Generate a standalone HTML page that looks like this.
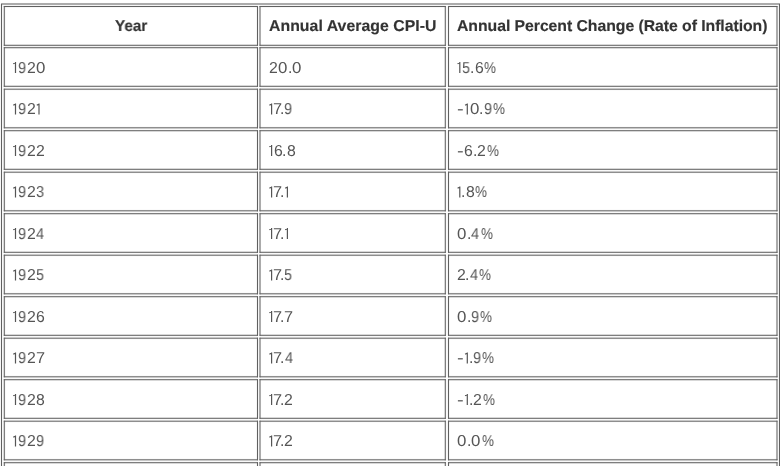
<!DOCTYPE html>
<html><head><meta charset="utf-8"><style>
html,body{margin:0;padding:0;background:#fff;width:780px;height:466px;overflow:hidden;position:relative}
svg{position:absolute;left:0;top:0}
.h,.b{position:absolute;height:0;line-height:0;white-space:nowrap;font-family:"Liberation Sans",sans-serif;transform-origin:0 0;will-change:transform;text-rendering:geometricPrecision}
.h{font-weight:bold;font-size:15.8px;color:#333;-webkit-text-stroke:0.15px #333}
.b{font-size:15.8px;color:#555}
</style></head><body>
<svg width="780" height="466" viewBox="0 0 780 466"><rect x="1.00" y="4.00" width="1.00" height="462.00" fill="#606060"/><rect x="0.40" y="4.00" width="0.60" height="462.00" fill="#606060" fill-opacity="0.1"/><rect x="2.00" y="4.00" width="0.60" height="462.00" fill="#606060" fill-opacity="0.1"/><rect x="779.00" y="4.00" width="1.00" height="462.00" fill="#606060"/><rect x="778.40" y="4.00" width="0.60" height="462.00" fill="#606060" fill-opacity="0.1"/><rect x="780.00" y="4.00" width="0.60" height="462.00" fill="#606060" fill-opacity="0.1"/><rect x="1.00" y="3.50" width="779.00" height="1.00" fill="#606060"/><rect x="1.00" y="2.90" width="779.00" height="0.60" fill="#606060" fill-opacity="0.1"/><rect x="1.00" y="4.50" width="779.00" height="0.60" fill="#606060" fill-opacity="0.1"/><rect x="3.80" y="6.00" width="254.20" height="1.00" fill="#606060"/><rect x="3.80" y="5.40" width="254.20" height="0.60" fill="#606060" fill-opacity="0.1"/><rect x="3.80" y="7.00" width="254.20" height="0.60" fill="#606060" fill-opacity="0.1"/><rect x="3.80" y="44.80" width="254.20" height="1.00" fill="#606060"/><rect x="3.80" y="44.20" width="254.20" height="0.60" fill="#606060" fill-opacity="0.1"/><rect x="3.80" y="45.80" width="254.20" height="0.60" fill="#606060" fill-opacity="0.1"/><rect x="3.80" y="6.00" width="1.00" height="39.80" fill="#606060"/><rect x="3.20" y="6.00" width="0.60" height="39.80" fill="#606060" fill-opacity="0.1"/><rect x="4.80" y="6.00" width="0.60" height="39.80" fill="#606060" fill-opacity="0.1"/><rect x="257.00" y="6.00" width="1.00" height="39.80" fill="#606060"/><rect x="256.40" y="6.00" width="0.60" height="39.80" fill="#606060" fill-opacity="0.1"/><rect x="258.00" y="6.00" width="0.60" height="39.80" fill="#606060" fill-opacity="0.1"/><rect x="259.50" y="6.00" width="186.30" height="1.00" fill="#606060"/><rect x="259.50" y="5.40" width="186.30" height="0.60" fill="#606060" fill-opacity="0.1"/><rect x="259.50" y="7.00" width="186.30" height="0.60" fill="#606060" fill-opacity="0.1"/><rect x="259.50" y="44.80" width="186.30" height="1.00" fill="#606060"/><rect x="259.50" y="44.20" width="186.30" height="0.60" fill="#606060" fill-opacity="0.1"/><rect x="259.50" y="45.80" width="186.30" height="0.60" fill="#606060" fill-opacity="0.1"/><rect x="259.50" y="6.00" width="1.00" height="39.80" fill="#606060"/><rect x="258.90" y="6.00" width="0.60" height="39.80" fill="#606060" fill-opacity="0.1"/><rect x="260.50" y="6.00" width="0.60" height="39.80" fill="#606060" fill-opacity="0.1"/><rect x="444.80" y="6.00" width="1.00" height="39.80" fill="#606060"/><rect x="444.20" y="6.00" width="0.60" height="39.80" fill="#606060" fill-opacity="0.1"/><rect x="445.80" y="6.00" width="0.60" height="39.80" fill="#606060" fill-opacity="0.1"/><rect x="448.00" y="6.00" width="329.50" height="1.00" fill="#606060"/><rect x="448.00" y="5.40" width="329.50" height="0.60" fill="#606060" fill-opacity="0.1"/><rect x="448.00" y="7.00" width="329.50" height="0.60" fill="#606060" fill-opacity="0.1"/><rect x="448.00" y="44.80" width="329.50" height="1.00" fill="#606060"/><rect x="448.00" y="44.20" width="329.50" height="0.60" fill="#606060" fill-opacity="0.1"/><rect x="448.00" y="45.80" width="329.50" height="0.60" fill="#606060" fill-opacity="0.1"/><rect x="448.00" y="6.00" width="1.00" height="39.80" fill="#606060"/><rect x="447.40" y="6.00" width="0.60" height="39.80" fill="#606060" fill-opacity="0.1"/><rect x="449.00" y="6.00" width="0.60" height="39.80" fill="#606060" fill-opacity="0.1"/><rect x="776.50" y="6.00" width="1.00" height="39.80" fill="#606060"/><rect x="775.90" y="6.00" width="0.60" height="39.80" fill="#606060" fill-opacity="0.1"/><rect x="777.50" y="6.00" width="0.60" height="39.80" fill="#606060" fill-opacity="0.1"/><rect x="3.80" y="47.20" width="254.20" height="1.00" fill="#606060"/><rect x="3.80" y="46.60" width="254.20" height="0.60" fill="#606060" fill-opacity="0.1"/><rect x="3.80" y="48.20" width="254.20" height="0.60" fill="#606060" fill-opacity="0.1"/><rect x="3.80" y="85.80" width="254.20" height="1.00" fill="#606060"/><rect x="3.80" y="85.20" width="254.20" height="0.60" fill="#606060" fill-opacity="0.1"/><rect x="3.80" y="86.80" width="254.20" height="0.60" fill="#606060" fill-opacity="0.1"/><rect x="3.80" y="47.20" width="1.00" height="39.60" fill="#606060"/><rect x="3.20" y="47.20" width="0.60" height="39.60" fill="#606060" fill-opacity="0.1"/><rect x="4.80" y="47.20" width="0.60" height="39.60" fill="#606060" fill-opacity="0.1"/><rect x="257.00" y="47.20" width="1.00" height="39.60" fill="#606060"/><rect x="256.40" y="47.20" width="0.60" height="39.60" fill="#606060" fill-opacity="0.1"/><rect x="258.00" y="47.20" width="0.60" height="39.60" fill="#606060" fill-opacity="0.1"/><rect x="259.50" y="47.20" width="186.30" height="1.00" fill="#606060"/><rect x="259.50" y="46.60" width="186.30" height="0.60" fill="#606060" fill-opacity="0.1"/><rect x="259.50" y="48.20" width="186.30" height="0.60" fill="#606060" fill-opacity="0.1"/><rect x="259.50" y="85.80" width="186.30" height="1.00" fill="#606060"/><rect x="259.50" y="85.20" width="186.30" height="0.60" fill="#606060" fill-opacity="0.1"/><rect x="259.50" y="86.80" width="186.30" height="0.60" fill="#606060" fill-opacity="0.1"/><rect x="259.50" y="47.20" width="1.00" height="39.60" fill="#606060"/><rect x="258.90" y="47.20" width="0.60" height="39.60" fill="#606060" fill-opacity="0.1"/><rect x="260.50" y="47.20" width="0.60" height="39.60" fill="#606060" fill-opacity="0.1"/><rect x="444.80" y="47.20" width="1.00" height="39.60" fill="#606060"/><rect x="444.20" y="47.20" width="0.60" height="39.60" fill="#606060" fill-opacity="0.1"/><rect x="445.80" y="47.20" width="0.60" height="39.60" fill="#606060" fill-opacity="0.1"/><rect x="448.00" y="47.20" width="329.50" height="1.00" fill="#606060"/><rect x="448.00" y="46.60" width="329.50" height="0.60" fill="#606060" fill-opacity="0.1"/><rect x="448.00" y="48.20" width="329.50" height="0.60" fill="#606060" fill-opacity="0.1"/><rect x="448.00" y="85.80" width="329.50" height="1.00" fill="#606060"/><rect x="448.00" y="85.20" width="329.50" height="0.60" fill="#606060" fill-opacity="0.1"/><rect x="448.00" y="86.80" width="329.50" height="0.60" fill="#606060" fill-opacity="0.1"/><rect x="448.00" y="47.20" width="1.00" height="39.60" fill="#606060"/><rect x="447.40" y="47.20" width="0.60" height="39.60" fill="#606060" fill-opacity="0.1"/><rect x="449.00" y="47.20" width="0.60" height="39.60" fill="#606060" fill-opacity="0.1"/><rect x="776.50" y="47.20" width="1.00" height="39.60" fill="#606060"/><rect x="775.90" y="47.20" width="0.60" height="39.60" fill="#606060" fill-opacity="0.1"/><rect x="777.50" y="47.20" width="0.60" height="39.60" fill="#606060" fill-opacity="0.1"/><rect x="3.80" y="88.70" width="254.20" height="1.00" fill="#606060"/><rect x="3.80" y="88.10" width="254.20" height="0.60" fill="#606060" fill-opacity="0.1"/><rect x="3.80" y="89.70" width="254.20" height="0.60" fill="#606060" fill-opacity="0.1"/><rect x="3.80" y="127.30" width="254.20" height="1.00" fill="#606060"/><rect x="3.80" y="126.70" width="254.20" height="0.60" fill="#606060" fill-opacity="0.1"/><rect x="3.80" y="128.30" width="254.20" height="0.60" fill="#606060" fill-opacity="0.1"/><rect x="3.80" y="88.70" width="1.00" height="39.60" fill="#606060"/><rect x="3.20" y="88.70" width="0.60" height="39.60" fill="#606060" fill-opacity="0.1"/><rect x="4.80" y="88.70" width="0.60" height="39.60" fill="#606060" fill-opacity="0.1"/><rect x="257.00" y="88.70" width="1.00" height="39.60" fill="#606060"/><rect x="256.40" y="88.70" width="0.60" height="39.60" fill="#606060" fill-opacity="0.1"/><rect x="258.00" y="88.70" width="0.60" height="39.60" fill="#606060" fill-opacity="0.1"/><rect x="259.50" y="88.70" width="186.30" height="1.00" fill="#606060"/><rect x="259.50" y="88.10" width="186.30" height="0.60" fill="#606060" fill-opacity="0.1"/><rect x="259.50" y="89.70" width="186.30" height="0.60" fill="#606060" fill-opacity="0.1"/><rect x="259.50" y="127.30" width="186.30" height="1.00" fill="#606060"/><rect x="259.50" y="126.70" width="186.30" height="0.60" fill="#606060" fill-opacity="0.1"/><rect x="259.50" y="128.30" width="186.30" height="0.60" fill="#606060" fill-opacity="0.1"/><rect x="259.50" y="88.70" width="1.00" height="39.60" fill="#606060"/><rect x="258.90" y="88.70" width="0.60" height="39.60" fill="#606060" fill-opacity="0.1"/><rect x="260.50" y="88.70" width="0.60" height="39.60" fill="#606060" fill-opacity="0.1"/><rect x="444.80" y="88.70" width="1.00" height="39.60" fill="#606060"/><rect x="444.20" y="88.70" width="0.60" height="39.60" fill="#606060" fill-opacity="0.1"/><rect x="445.80" y="88.70" width="0.60" height="39.60" fill="#606060" fill-opacity="0.1"/><rect x="448.00" y="88.70" width="329.50" height="1.00" fill="#606060"/><rect x="448.00" y="88.10" width="329.50" height="0.60" fill="#606060" fill-opacity="0.1"/><rect x="448.00" y="89.70" width="329.50" height="0.60" fill="#606060" fill-opacity="0.1"/><rect x="448.00" y="127.30" width="329.50" height="1.00" fill="#606060"/><rect x="448.00" y="126.70" width="329.50" height="0.60" fill="#606060" fill-opacity="0.1"/><rect x="448.00" y="128.30" width="329.50" height="0.60" fill="#606060" fill-opacity="0.1"/><rect x="448.00" y="88.70" width="1.00" height="39.60" fill="#606060"/><rect x="447.40" y="88.70" width="0.60" height="39.60" fill="#606060" fill-opacity="0.1"/><rect x="449.00" y="88.70" width="0.60" height="39.60" fill="#606060" fill-opacity="0.1"/><rect x="776.50" y="88.70" width="1.00" height="39.60" fill="#606060"/><rect x="775.90" y="88.70" width="0.60" height="39.60" fill="#606060" fill-opacity="0.1"/><rect x="777.50" y="88.70" width="0.60" height="39.60" fill="#606060" fill-opacity="0.1"/><rect x="3.80" y="130.20" width="254.20" height="1.00" fill="#606060"/><rect x="3.80" y="129.60" width="254.20" height="0.60" fill="#606060" fill-opacity="0.1"/><rect x="3.80" y="131.20" width="254.20" height="0.60" fill="#606060" fill-opacity="0.1"/><rect x="3.80" y="168.80" width="254.20" height="1.00" fill="#606060"/><rect x="3.80" y="168.20" width="254.20" height="0.60" fill="#606060" fill-opacity="0.1"/><rect x="3.80" y="169.80" width="254.20" height="0.60" fill="#606060" fill-opacity="0.1"/><rect x="3.80" y="130.20" width="1.00" height="39.60" fill="#606060"/><rect x="3.20" y="130.20" width="0.60" height="39.60" fill="#606060" fill-opacity="0.1"/><rect x="4.80" y="130.20" width="0.60" height="39.60" fill="#606060" fill-opacity="0.1"/><rect x="257.00" y="130.20" width="1.00" height="39.60" fill="#606060"/><rect x="256.40" y="130.20" width="0.60" height="39.60" fill="#606060" fill-opacity="0.1"/><rect x="258.00" y="130.20" width="0.60" height="39.60" fill="#606060" fill-opacity="0.1"/><rect x="259.50" y="130.20" width="186.30" height="1.00" fill="#606060"/><rect x="259.50" y="129.60" width="186.30" height="0.60" fill="#606060" fill-opacity="0.1"/><rect x="259.50" y="131.20" width="186.30" height="0.60" fill="#606060" fill-opacity="0.1"/><rect x="259.50" y="168.80" width="186.30" height="1.00" fill="#606060"/><rect x="259.50" y="168.20" width="186.30" height="0.60" fill="#606060" fill-opacity="0.1"/><rect x="259.50" y="169.80" width="186.30" height="0.60" fill="#606060" fill-opacity="0.1"/><rect x="259.50" y="130.20" width="1.00" height="39.60" fill="#606060"/><rect x="258.90" y="130.20" width="0.60" height="39.60" fill="#606060" fill-opacity="0.1"/><rect x="260.50" y="130.20" width="0.60" height="39.60" fill="#606060" fill-opacity="0.1"/><rect x="444.80" y="130.20" width="1.00" height="39.60" fill="#606060"/><rect x="444.20" y="130.20" width="0.60" height="39.60" fill="#606060" fill-opacity="0.1"/><rect x="445.80" y="130.20" width="0.60" height="39.60" fill="#606060" fill-opacity="0.1"/><rect x="448.00" y="130.20" width="329.50" height="1.00" fill="#606060"/><rect x="448.00" y="129.60" width="329.50" height="0.60" fill="#606060" fill-opacity="0.1"/><rect x="448.00" y="131.20" width="329.50" height="0.60" fill="#606060" fill-opacity="0.1"/><rect x="448.00" y="168.80" width="329.50" height="1.00" fill="#606060"/><rect x="448.00" y="168.20" width="329.50" height="0.60" fill="#606060" fill-opacity="0.1"/><rect x="448.00" y="169.80" width="329.50" height="0.60" fill="#606060" fill-opacity="0.1"/><rect x="448.00" y="130.20" width="1.00" height="39.60" fill="#606060"/><rect x="447.40" y="130.20" width="0.60" height="39.60" fill="#606060" fill-opacity="0.1"/><rect x="449.00" y="130.20" width="0.60" height="39.60" fill="#606060" fill-opacity="0.1"/><rect x="776.50" y="130.20" width="1.00" height="39.60" fill="#606060"/><rect x="775.90" y="130.20" width="0.60" height="39.60" fill="#606060" fill-opacity="0.1"/><rect x="777.50" y="130.20" width="0.60" height="39.60" fill="#606060" fill-opacity="0.1"/><rect x="3.80" y="171.70" width="254.20" height="1.00" fill="#606060"/><rect x="3.80" y="171.10" width="254.20" height="0.60" fill="#606060" fill-opacity="0.1"/><rect x="3.80" y="172.70" width="254.20" height="0.60" fill="#606060" fill-opacity="0.1"/><rect x="3.80" y="210.30" width="254.20" height="1.00" fill="#606060"/><rect x="3.80" y="209.70" width="254.20" height="0.60" fill="#606060" fill-opacity="0.1"/><rect x="3.80" y="211.30" width="254.20" height="0.60" fill="#606060" fill-opacity="0.1"/><rect x="3.80" y="171.70" width="1.00" height="39.60" fill="#606060"/><rect x="3.20" y="171.70" width="0.60" height="39.60" fill="#606060" fill-opacity="0.1"/><rect x="4.80" y="171.70" width="0.60" height="39.60" fill="#606060" fill-opacity="0.1"/><rect x="257.00" y="171.70" width="1.00" height="39.60" fill="#606060"/><rect x="256.40" y="171.70" width="0.60" height="39.60" fill="#606060" fill-opacity="0.1"/><rect x="258.00" y="171.70" width="0.60" height="39.60" fill="#606060" fill-opacity="0.1"/><rect x="259.50" y="171.70" width="186.30" height="1.00" fill="#606060"/><rect x="259.50" y="171.10" width="186.30" height="0.60" fill="#606060" fill-opacity="0.1"/><rect x="259.50" y="172.70" width="186.30" height="0.60" fill="#606060" fill-opacity="0.1"/><rect x="259.50" y="210.30" width="186.30" height="1.00" fill="#606060"/><rect x="259.50" y="209.70" width="186.30" height="0.60" fill="#606060" fill-opacity="0.1"/><rect x="259.50" y="211.30" width="186.30" height="0.60" fill="#606060" fill-opacity="0.1"/><rect x="259.50" y="171.70" width="1.00" height="39.60" fill="#606060"/><rect x="258.90" y="171.70" width="0.60" height="39.60" fill="#606060" fill-opacity="0.1"/><rect x="260.50" y="171.70" width="0.60" height="39.60" fill="#606060" fill-opacity="0.1"/><rect x="444.80" y="171.70" width="1.00" height="39.60" fill="#606060"/><rect x="444.20" y="171.70" width="0.60" height="39.60" fill="#606060" fill-opacity="0.1"/><rect x="445.80" y="171.70" width="0.60" height="39.60" fill="#606060" fill-opacity="0.1"/><rect x="448.00" y="171.70" width="329.50" height="1.00" fill="#606060"/><rect x="448.00" y="171.10" width="329.50" height="0.60" fill="#606060" fill-opacity="0.1"/><rect x="448.00" y="172.70" width="329.50" height="0.60" fill="#606060" fill-opacity="0.1"/><rect x="448.00" y="210.30" width="329.50" height="1.00" fill="#606060"/><rect x="448.00" y="209.70" width="329.50" height="0.60" fill="#606060" fill-opacity="0.1"/><rect x="448.00" y="211.30" width="329.50" height="0.60" fill="#606060" fill-opacity="0.1"/><rect x="448.00" y="171.70" width="1.00" height="39.60" fill="#606060"/><rect x="447.40" y="171.70" width="0.60" height="39.60" fill="#606060" fill-opacity="0.1"/><rect x="449.00" y="171.70" width="0.60" height="39.60" fill="#606060" fill-opacity="0.1"/><rect x="776.50" y="171.70" width="1.00" height="39.60" fill="#606060"/><rect x="775.90" y="171.70" width="0.60" height="39.60" fill="#606060" fill-opacity="0.1"/><rect x="777.50" y="171.70" width="0.60" height="39.60" fill="#606060" fill-opacity="0.1"/><rect x="3.80" y="213.20" width="254.20" height="1.00" fill="#606060"/><rect x="3.80" y="212.60" width="254.20" height="0.60" fill="#606060" fill-opacity="0.1"/><rect x="3.80" y="214.20" width="254.20" height="0.60" fill="#606060" fill-opacity="0.1"/><rect x="3.80" y="251.80" width="254.20" height="1.00" fill="#606060"/><rect x="3.80" y="251.20" width="254.20" height="0.60" fill="#606060" fill-opacity="0.1"/><rect x="3.80" y="252.80" width="254.20" height="0.60" fill="#606060" fill-opacity="0.1"/><rect x="3.80" y="213.20" width="1.00" height="39.60" fill="#606060"/><rect x="3.20" y="213.20" width="0.60" height="39.60" fill="#606060" fill-opacity="0.1"/><rect x="4.80" y="213.20" width="0.60" height="39.60" fill="#606060" fill-opacity="0.1"/><rect x="257.00" y="213.20" width="1.00" height="39.60" fill="#606060"/><rect x="256.40" y="213.20" width="0.60" height="39.60" fill="#606060" fill-opacity="0.1"/><rect x="258.00" y="213.20" width="0.60" height="39.60" fill="#606060" fill-opacity="0.1"/><rect x="259.50" y="213.20" width="186.30" height="1.00" fill="#606060"/><rect x="259.50" y="212.60" width="186.30" height="0.60" fill="#606060" fill-opacity="0.1"/><rect x="259.50" y="214.20" width="186.30" height="0.60" fill="#606060" fill-opacity="0.1"/><rect x="259.50" y="251.80" width="186.30" height="1.00" fill="#606060"/><rect x="259.50" y="251.20" width="186.30" height="0.60" fill="#606060" fill-opacity="0.1"/><rect x="259.50" y="252.80" width="186.30" height="0.60" fill="#606060" fill-opacity="0.1"/><rect x="259.50" y="213.20" width="1.00" height="39.60" fill="#606060"/><rect x="258.90" y="213.20" width="0.60" height="39.60" fill="#606060" fill-opacity="0.1"/><rect x="260.50" y="213.20" width="0.60" height="39.60" fill="#606060" fill-opacity="0.1"/><rect x="444.80" y="213.20" width="1.00" height="39.60" fill="#606060"/><rect x="444.20" y="213.20" width="0.60" height="39.60" fill="#606060" fill-opacity="0.1"/><rect x="445.80" y="213.20" width="0.60" height="39.60" fill="#606060" fill-opacity="0.1"/><rect x="448.00" y="213.20" width="329.50" height="1.00" fill="#606060"/><rect x="448.00" y="212.60" width="329.50" height="0.60" fill="#606060" fill-opacity="0.1"/><rect x="448.00" y="214.20" width="329.50" height="0.60" fill="#606060" fill-opacity="0.1"/><rect x="448.00" y="251.80" width="329.50" height="1.00" fill="#606060"/><rect x="448.00" y="251.20" width="329.50" height="0.60" fill="#606060" fill-opacity="0.1"/><rect x="448.00" y="252.80" width="329.50" height="0.60" fill="#606060" fill-opacity="0.1"/><rect x="448.00" y="213.20" width="1.00" height="39.60" fill="#606060"/><rect x="447.40" y="213.20" width="0.60" height="39.60" fill="#606060" fill-opacity="0.1"/><rect x="449.00" y="213.20" width="0.60" height="39.60" fill="#606060" fill-opacity="0.1"/><rect x="776.50" y="213.20" width="1.00" height="39.60" fill="#606060"/><rect x="775.90" y="213.20" width="0.60" height="39.60" fill="#606060" fill-opacity="0.1"/><rect x="777.50" y="213.20" width="0.60" height="39.60" fill="#606060" fill-opacity="0.1"/><rect x="3.80" y="254.70" width="254.20" height="1.00" fill="#606060"/><rect x="3.80" y="254.10" width="254.20" height="0.60" fill="#606060" fill-opacity="0.1"/><rect x="3.80" y="255.70" width="254.20" height="0.60" fill="#606060" fill-opacity="0.1"/><rect x="3.80" y="293.30" width="254.20" height="1.00" fill="#606060"/><rect x="3.80" y="292.70" width="254.20" height="0.60" fill="#606060" fill-opacity="0.1"/><rect x="3.80" y="294.30" width="254.20" height="0.60" fill="#606060" fill-opacity="0.1"/><rect x="3.80" y="254.70" width="1.00" height="39.60" fill="#606060"/><rect x="3.20" y="254.70" width="0.60" height="39.60" fill="#606060" fill-opacity="0.1"/><rect x="4.80" y="254.70" width="0.60" height="39.60" fill="#606060" fill-opacity="0.1"/><rect x="257.00" y="254.70" width="1.00" height="39.60" fill="#606060"/><rect x="256.40" y="254.70" width="0.60" height="39.60" fill="#606060" fill-opacity="0.1"/><rect x="258.00" y="254.70" width="0.60" height="39.60" fill="#606060" fill-opacity="0.1"/><rect x="259.50" y="254.70" width="186.30" height="1.00" fill="#606060"/><rect x="259.50" y="254.10" width="186.30" height="0.60" fill="#606060" fill-opacity="0.1"/><rect x="259.50" y="255.70" width="186.30" height="0.60" fill="#606060" fill-opacity="0.1"/><rect x="259.50" y="293.30" width="186.30" height="1.00" fill="#606060"/><rect x="259.50" y="292.70" width="186.30" height="0.60" fill="#606060" fill-opacity="0.1"/><rect x="259.50" y="294.30" width="186.30" height="0.60" fill="#606060" fill-opacity="0.1"/><rect x="259.50" y="254.70" width="1.00" height="39.60" fill="#606060"/><rect x="258.90" y="254.70" width="0.60" height="39.60" fill="#606060" fill-opacity="0.1"/><rect x="260.50" y="254.70" width="0.60" height="39.60" fill="#606060" fill-opacity="0.1"/><rect x="444.80" y="254.70" width="1.00" height="39.60" fill="#606060"/><rect x="444.20" y="254.70" width="0.60" height="39.60" fill="#606060" fill-opacity="0.1"/><rect x="445.80" y="254.70" width="0.60" height="39.60" fill="#606060" fill-opacity="0.1"/><rect x="448.00" y="254.70" width="329.50" height="1.00" fill="#606060"/><rect x="448.00" y="254.10" width="329.50" height="0.60" fill="#606060" fill-opacity="0.1"/><rect x="448.00" y="255.70" width="329.50" height="0.60" fill="#606060" fill-opacity="0.1"/><rect x="448.00" y="293.30" width="329.50" height="1.00" fill="#606060"/><rect x="448.00" y="292.70" width="329.50" height="0.60" fill="#606060" fill-opacity="0.1"/><rect x="448.00" y="294.30" width="329.50" height="0.60" fill="#606060" fill-opacity="0.1"/><rect x="448.00" y="254.70" width="1.00" height="39.60" fill="#606060"/><rect x="447.40" y="254.70" width="0.60" height="39.60" fill="#606060" fill-opacity="0.1"/><rect x="449.00" y="254.70" width="0.60" height="39.60" fill="#606060" fill-opacity="0.1"/><rect x="776.50" y="254.70" width="1.00" height="39.60" fill="#606060"/><rect x="775.90" y="254.70" width="0.60" height="39.60" fill="#606060" fill-opacity="0.1"/><rect x="777.50" y="254.70" width="0.60" height="39.60" fill="#606060" fill-opacity="0.1"/><rect x="3.80" y="296.20" width="254.20" height="1.00" fill="#606060"/><rect x="3.80" y="295.60" width="254.20" height="0.60" fill="#606060" fill-opacity="0.1"/><rect x="3.80" y="297.20" width="254.20" height="0.60" fill="#606060" fill-opacity="0.1"/><rect x="3.80" y="334.80" width="254.20" height="1.00" fill="#606060"/><rect x="3.80" y="334.20" width="254.20" height="0.60" fill="#606060" fill-opacity="0.1"/><rect x="3.80" y="335.80" width="254.20" height="0.60" fill="#606060" fill-opacity="0.1"/><rect x="3.80" y="296.20" width="1.00" height="39.60" fill="#606060"/><rect x="3.20" y="296.20" width="0.60" height="39.60" fill="#606060" fill-opacity="0.1"/><rect x="4.80" y="296.20" width="0.60" height="39.60" fill="#606060" fill-opacity="0.1"/><rect x="257.00" y="296.20" width="1.00" height="39.60" fill="#606060"/><rect x="256.40" y="296.20" width="0.60" height="39.60" fill="#606060" fill-opacity="0.1"/><rect x="258.00" y="296.20" width="0.60" height="39.60" fill="#606060" fill-opacity="0.1"/><rect x="259.50" y="296.20" width="186.30" height="1.00" fill="#606060"/><rect x="259.50" y="295.60" width="186.30" height="0.60" fill="#606060" fill-opacity="0.1"/><rect x="259.50" y="297.20" width="186.30" height="0.60" fill="#606060" fill-opacity="0.1"/><rect x="259.50" y="334.80" width="186.30" height="1.00" fill="#606060"/><rect x="259.50" y="334.20" width="186.30" height="0.60" fill="#606060" fill-opacity="0.1"/><rect x="259.50" y="335.80" width="186.30" height="0.60" fill="#606060" fill-opacity="0.1"/><rect x="259.50" y="296.20" width="1.00" height="39.60" fill="#606060"/><rect x="258.90" y="296.20" width="0.60" height="39.60" fill="#606060" fill-opacity="0.1"/><rect x="260.50" y="296.20" width="0.60" height="39.60" fill="#606060" fill-opacity="0.1"/><rect x="444.80" y="296.20" width="1.00" height="39.60" fill="#606060"/><rect x="444.20" y="296.20" width="0.60" height="39.60" fill="#606060" fill-opacity="0.1"/><rect x="445.80" y="296.20" width="0.60" height="39.60" fill="#606060" fill-opacity="0.1"/><rect x="448.00" y="296.20" width="329.50" height="1.00" fill="#606060"/><rect x="448.00" y="295.60" width="329.50" height="0.60" fill="#606060" fill-opacity="0.1"/><rect x="448.00" y="297.20" width="329.50" height="0.60" fill="#606060" fill-opacity="0.1"/><rect x="448.00" y="334.80" width="329.50" height="1.00" fill="#606060"/><rect x="448.00" y="334.20" width="329.50" height="0.60" fill="#606060" fill-opacity="0.1"/><rect x="448.00" y="335.80" width="329.50" height="0.60" fill="#606060" fill-opacity="0.1"/><rect x="448.00" y="296.20" width="1.00" height="39.60" fill="#606060"/><rect x="447.40" y="296.20" width="0.60" height="39.60" fill="#606060" fill-opacity="0.1"/><rect x="449.00" y="296.20" width="0.60" height="39.60" fill="#606060" fill-opacity="0.1"/><rect x="776.50" y="296.20" width="1.00" height="39.60" fill="#606060"/><rect x="775.90" y="296.20" width="0.60" height="39.60" fill="#606060" fill-opacity="0.1"/><rect x="777.50" y="296.20" width="0.60" height="39.60" fill="#606060" fill-opacity="0.1"/><rect x="3.80" y="337.70" width="254.20" height="1.00" fill="#606060"/><rect x="3.80" y="337.10" width="254.20" height="0.60" fill="#606060" fill-opacity="0.1"/><rect x="3.80" y="338.70" width="254.20" height="0.60" fill="#606060" fill-opacity="0.1"/><rect x="3.80" y="376.30" width="254.20" height="1.00" fill="#606060"/><rect x="3.80" y="375.70" width="254.20" height="0.60" fill="#606060" fill-opacity="0.1"/><rect x="3.80" y="377.30" width="254.20" height="0.60" fill="#606060" fill-opacity="0.1"/><rect x="3.80" y="337.70" width="1.00" height="39.60" fill="#606060"/><rect x="3.20" y="337.70" width="0.60" height="39.60" fill="#606060" fill-opacity="0.1"/><rect x="4.80" y="337.70" width="0.60" height="39.60" fill="#606060" fill-opacity="0.1"/><rect x="257.00" y="337.70" width="1.00" height="39.60" fill="#606060"/><rect x="256.40" y="337.70" width="0.60" height="39.60" fill="#606060" fill-opacity="0.1"/><rect x="258.00" y="337.70" width="0.60" height="39.60" fill="#606060" fill-opacity="0.1"/><rect x="259.50" y="337.70" width="186.30" height="1.00" fill="#606060"/><rect x="259.50" y="337.10" width="186.30" height="0.60" fill="#606060" fill-opacity="0.1"/><rect x="259.50" y="338.70" width="186.30" height="0.60" fill="#606060" fill-opacity="0.1"/><rect x="259.50" y="376.30" width="186.30" height="1.00" fill="#606060"/><rect x="259.50" y="375.70" width="186.30" height="0.60" fill="#606060" fill-opacity="0.1"/><rect x="259.50" y="377.30" width="186.30" height="0.60" fill="#606060" fill-opacity="0.1"/><rect x="259.50" y="337.70" width="1.00" height="39.60" fill="#606060"/><rect x="258.90" y="337.70" width="0.60" height="39.60" fill="#606060" fill-opacity="0.1"/><rect x="260.50" y="337.70" width="0.60" height="39.60" fill="#606060" fill-opacity="0.1"/><rect x="444.80" y="337.70" width="1.00" height="39.60" fill="#606060"/><rect x="444.20" y="337.70" width="0.60" height="39.60" fill="#606060" fill-opacity="0.1"/><rect x="445.80" y="337.70" width="0.60" height="39.60" fill="#606060" fill-opacity="0.1"/><rect x="448.00" y="337.70" width="329.50" height="1.00" fill="#606060"/><rect x="448.00" y="337.10" width="329.50" height="0.60" fill="#606060" fill-opacity="0.1"/><rect x="448.00" y="338.70" width="329.50" height="0.60" fill="#606060" fill-opacity="0.1"/><rect x="448.00" y="376.30" width="329.50" height="1.00" fill="#606060"/><rect x="448.00" y="375.70" width="329.50" height="0.60" fill="#606060" fill-opacity="0.1"/><rect x="448.00" y="377.30" width="329.50" height="0.60" fill="#606060" fill-opacity="0.1"/><rect x="448.00" y="337.70" width="1.00" height="39.60" fill="#606060"/><rect x="447.40" y="337.70" width="0.60" height="39.60" fill="#606060" fill-opacity="0.1"/><rect x="449.00" y="337.70" width="0.60" height="39.60" fill="#606060" fill-opacity="0.1"/><rect x="776.50" y="337.70" width="1.00" height="39.60" fill="#606060"/><rect x="775.90" y="337.70" width="0.60" height="39.60" fill="#606060" fill-opacity="0.1"/><rect x="777.50" y="337.70" width="0.60" height="39.60" fill="#606060" fill-opacity="0.1"/><rect x="3.80" y="379.20" width="254.20" height="1.00" fill="#606060"/><rect x="3.80" y="378.60" width="254.20" height="0.60" fill="#606060" fill-opacity="0.1"/><rect x="3.80" y="380.20" width="254.20" height="0.60" fill="#606060" fill-opacity="0.1"/><rect x="3.80" y="417.80" width="254.20" height="1.00" fill="#606060"/><rect x="3.80" y="417.20" width="254.20" height="0.60" fill="#606060" fill-opacity="0.1"/><rect x="3.80" y="418.80" width="254.20" height="0.60" fill="#606060" fill-opacity="0.1"/><rect x="3.80" y="379.20" width="1.00" height="39.60" fill="#606060"/><rect x="3.20" y="379.20" width="0.60" height="39.60" fill="#606060" fill-opacity="0.1"/><rect x="4.80" y="379.20" width="0.60" height="39.60" fill="#606060" fill-opacity="0.1"/><rect x="257.00" y="379.20" width="1.00" height="39.60" fill="#606060"/><rect x="256.40" y="379.20" width="0.60" height="39.60" fill="#606060" fill-opacity="0.1"/><rect x="258.00" y="379.20" width="0.60" height="39.60" fill="#606060" fill-opacity="0.1"/><rect x="259.50" y="379.20" width="186.30" height="1.00" fill="#606060"/><rect x="259.50" y="378.60" width="186.30" height="0.60" fill="#606060" fill-opacity="0.1"/><rect x="259.50" y="380.20" width="186.30" height="0.60" fill="#606060" fill-opacity="0.1"/><rect x="259.50" y="417.80" width="186.30" height="1.00" fill="#606060"/><rect x="259.50" y="417.20" width="186.30" height="0.60" fill="#606060" fill-opacity="0.1"/><rect x="259.50" y="418.80" width="186.30" height="0.60" fill="#606060" fill-opacity="0.1"/><rect x="259.50" y="379.20" width="1.00" height="39.60" fill="#606060"/><rect x="258.90" y="379.20" width="0.60" height="39.60" fill="#606060" fill-opacity="0.1"/><rect x="260.50" y="379.20" width="0.60" height="39.60" fill="#606060" fill-opacity="0.1"/><rect x="444.80" y="379.20" width="1.00" height="39.60" fill="#606060"/><rect x="444.20" y="379.20" width="0.60" height="39.60" fill="#606060" fill-opacity="0.1"/><rect x="445.80" y="379.20" width="0.60" height="39.60" fill="#606060" fill-opacity="0.1"/><rect x="448.00" y="379.20" width="329.50" height="1.00" fill="#606060"/><rect x="448.00" y="378.60" width="329.50" height="0.60" fill="#606060" fill-opacity="0.1"/><rect x="448.00" y="380.20" width="329.50" height="0.60" fill="#606060" fill-opacity="0.1"/><rect x="448.00" y="417.80" width="329.50" height="1.00" fill="#606060"/><rect x="448.00" y="417.20" width="329.50" height="0.60" fill="#606060" fill-opacity="0.1"/><rect x="448.00" y="418.80" width="329.50" height="0.60" fill="#606060" fill-opacity="0.1"/><rect x="448.00" y="379.20" width="1.00" height="39.60" fill="#606060"/><rect x="447.40" y="379.20" width="0.60" height="39.60" fill="#606060" fill-opacity="0.1"/><rect x="449.00" y="379.20" width="0.60" height="39.60" fill="#606060" fill-opacity="0.1"/><rect x="776.50" y="379.20" width="1.00" height="39.60" fill="#606060"/><rect x="775.90" y="379.20" width="0.60" height="39.60" fill="#606060" fill-opacity="0.1"/><rect x="777.50" y="379.20" width="0.60" height="39.60" fill="#606060" fill-opacity="0.1"/><rect x="3.80" y="420.70" width="254.20" height="1.00" fill="#606060"/><rect x="3.80" y="420.10" width="254.20" height="0.60" fill="#606060" fill-opacity="0.1"/><rect x="3.80" y="421.70" width="254.20" height="0.60" fill="#606060" fill-opacity="0.1"/><rect x="3.80" y="459.30" width="254.20" height="1.00" fill="#606060"/><rect x="3.80" y="458.70" width="254.20" height="0.60" fill="#606060" fill-opacity="0.1"/><rect x="3.80" y="460.30" width="254.20" height="0.60" fill="#606060" fill-opacity="0.1"/><rect x="3.80" y="420.70" width="1.00" height="39.60" fill="#606060"/><rect x="3.20" y="420.70" width="0.60" height="39.60" fill="#606060" fill-opacity="0.1"/><rect x="4.80" y="420.70" width="0.60" height="39.60" fill="#606060" fill-opacity="0.1"/><rect x="257.00" y="420.70" width="1.00" height="39.60" fill="#606060"/><rect x="256.40" y="420.70" width="0.60" height="39.60" fill="#606060" fill-opacity="0.1"/><rect x="258.00" y="420.70" width="0.60" height="39.60" fill="#606060" fill-opacity="0.1"/><rect x="259.50" y="420.70" width="186.30" height="1.00" fill="#606060"/><rect x="259.50" y="420.10" width="186.30" height="0.60" fill="#606060" fill-opacity="0.1"/><rect x="259.50" y="421.70" width="186.30" height="0.60" fill="#606060" fill-opacity="0.1"/><rect x="259.50" y="459.30" width="186.30" height="1.00" fill="#606060"/><rect x="259.50" y="458.70" width="186.30" height="0.60" fill="#606060" fill-opacity="0.1"/><rect x="259.50" y="460.30" width="186.30" height="0.60" fill="#606060" fill-opacity="0.1"/><rect x="259.50" y="420.70" width="1.00" height="39.60" fill="#606060"/><rect x="258.90" y="420.70" width="0.60" height="39.60" fill="#606060" fill-opacity="0.1"/><rect x="260.50" y="420.70" width="0.60" height="39.60" fill="#606060" fill-opacity="0.1"/><rect x="444.80" y="420.70" width="1.00" height="39.60" fill="#606060"/><rect x="444.20" y="420.70" width="0.60" height="39.60" fill="#606060" fill-opacity="0.1"/><rect x="445.80" y="420.70" width="0.60" height="39.60" fill="#606060" fill-opacity="0.1"/><rect x="448.00" y="420.70" width="329.50" height="1.00" fill="#606060"/><rect x="448.00" y="420.10" width="329.50" height="0.60" fill="#606060" fill-opacity="0.1"/><rect x="448.00" y="421.70" width="329.50" height="0.60" fill="#606060" fill-opacity="0.1"/><rect x="448.00" y="459.30" width="329.50" height="1.00" fill="#606060"/><rect x="448.00" y="458.70" width="329.50" height="0.60" fill="#606060" fill-opacity="0.1"/><rect x="448.00" y="460.30" width="329.50" height="0.60" fill="#606060" fill-opacity="0.1"/><rect x="448.00" y="420.70" width="1.00" height="39.60" fill="#606060"/><rect x="447.40" y="420.70" width="0.60" height="39.60" fill="#606060" fill-opacity="0.1"/><rect x="449.00" y="420.70" width="0.60" height="39.60" fill="#606060" fill-opacity="0.1"/><rect x="776.50" y="420.70" width="1.00" height="39.60" fill="#606060"/><rect x="775.90" y="420.70" width="0.60" height="39.60" fill="#606060" fill-opacity="0.1"/><rect x="777.50" y="420.70" width="0.60" height="39.60" fill="#606060" fill-opacity="0.1"/><rect x="3.80" y="462.20" width="254.20" height="1.00" fill="#606060"/><rect x="3.80" y="461.60" width="254.20" height="0.60" fill="#606060" fill-opacity="0.1"/><rect x="3.80" y="463.20" width="254.20" height="0.60" fill="#606060" fill-opacity="0.1"/><rect x="3.80" y="462.20" width="1.00" height="4.80" fill="#606060"/><rect x="3.20" y="462.20" width="0.60" height="4.80" fill="#606060" fill-opacity="0.1"/><rect x="4.80" y="462.20" width="0.60" height="4.80" fill="#606060" fill-opacity="0.1"/><rect x="257.00" y="462.20" width="1.00" height="4.80" fill="#606060"/><rect x="256.40" y="462.20" width="0.60" height="4.80" fill="#606060" fill-opacity="0.1"/><rect x="258.00" y="462.20" width="0.60" height="4.80" fill="#606060" fill-opacity="0.1"/><rect x="259.50" y="462.20" width="186.30" height="1.00" fill="#606060"/><rect x="259.50" y="461.60" width="186.30" height="0.60" fill="#606060" fill-opacity="0.1"/><rect x="259.50" y="463.20" width="186.30" height="0.60" fill="#606060" fill-opacity="0.1"/><rect x="259.50" y="462.20" width="1.00" height="4.80" fill="#606060"/><rect x="258.90" y="462.20" width="0.60" height="4.80" fill="#606060" fill-opacity="0.1"/><rect x="260.50" y="462.20" width="0.60" height="4.80" fill="#606060" fill-opacity="0.1"/><rect x="444.80" y="462.20" width="1.00" height="4.80" fill="#606060"/><rect x="444.20" y="462.20" width="0.60" height="4.80" fill="#606060" fill-opacity="0.1"/><rect x="445.80" y="462.20" width="0.60" height="4.80" fill="#606060" fill-opacity="0.1"/><rect x="448.00" y="462.20" width="329.50" height="1.00" fill="#606060"/><rect x="448.00" y="461.60" width="329.50" height="0.60" fill="#606060" fill-opacity="0.1"/><rect x="448.00" y="463.20" width="329.50" height="0.60" fill="#606060" fill-opacity="0.1"/><rect x="448.00" y="462.20" width="1.00" height="4.80" fill="#606060"/><rect x="447.40" y="462.20" width="0.60" height="4.80" fill="#606060" fill-opacity="0.1"/><rect x="449.00" y="462.20" width="0.60" height="4.80" fill="#606060" fill-opacity="0.1"/><rect x="776.50" y="462.20" width="1.00" height="4.80" fill="#606060"/><rect x="775.90" y="462.20" width="0.60" height="4.80" fill="#606060" fill-opacity="0.1"/><rect x="777.50" y="462.20" width="0.60" height="4.80" fill="#606060" fill-opacity="0.1"/><g fill="none" stroke="#555" stroke-width="1.2" stroke-linejoin="round"><path d="M13.30 63.80L15.50 62.46M15.50 62.10V73.00"/><path d="M457.60 63.80L459.80 62.46M459.80 62.10V73.00"/><path d="M13.30 105.30L15.50 103.96M15.50 103.60V114.50"/><path d="M36.80 105.30L39.00 103.96M39.00 103.60V114.50"/><path d="M269.40 105.30L271.60 103.96M271.60 103.60V114.50"/><path d="M465.10 105.30L467.30 103.96M467.30 103.60V114.50"/><path d="M13.30 146.80L15.50 145.46M15.50 145.10V156.00"/><path d="M269.40 146.80L271.60 145.46M271.60 145.10V156.00"/><path d="M13.30 188.30L15.50 186.96M15.50 186.60V197.50"/><path d="M269.40 188.30L271.60 186.96M271.60 186.60V197.50"/><path d="M285.20 188.30L287.40 186.96M287.40 186.60V197.50"/><path d="M457.60 188.30L459.80 186.96M459.80 186.60V197.50"/><path d="M13.30 229.80L15.50 228.46M15.50 228.10V239.00"/><path d="M269.40 229.80L271.60 228.46M271.60 228.10V239.00"/><path d="M285.20 229.80L287.40 228.46M287.40 228.10V239.00"/><path d="M13.30 271.30L15.50 269.96M15.50 269.60V280.50"/><path d="M269.40 271.30L271.60 269.96M271.60 269.60V280.50"/><path d="M13.30 312.80L15.50 311.46M15.50 311.10V322.00"/><path d="M269.40 312.80L271.60 311.46M271.60 311.10V322.00"/><path d="M13.30 354.30L15.50 352.96M15.50 352.60V363.50"/><path d="M269.40 354.30L271.60 352.96M271.60 352.60V363.50"/><path d="M465.10 354.30L467.30 352.96M467.30 352.60V363.50"/><path d="M13.30 395.80L15.50 394.46M15.50 394.10V405.00"/><path d="M269.40 395.80L271.60 394.46M271.60 394.10V405.00"/><path d="M465.10 395.80L467.30 394.46M467.30 394.10V405.00"/><path d="M13.30 437.30L15.50 435.96M15.50 435.60V446.50"/><path d="M269.40 437.30L271.60 435.96M271.60 435.60V446.50"/></g></svg>
<div class="h" style="left:115.10px;top:27.1px;transform:scaleX(0.965)">Year</div><div class="h" style="left:269.10px;top:27.1px;letter-spacing:0.053px">Annual Average CPI-U</div><div class="h" style="left:457.10px;top:27.1px;letter-spacing:-0.050px">Annual Percent Change (Rate of Inflation)</div><div class="b" style="left:17.75px;top:68.60px;transform:scaleX(0.923)">9</div><div class="b" style="left:26.61px;top:68.60px;transform:scaleX(0.978)">2</div><div class="b" style="left:36.10px;top:68.60px;transform:scaleX(1.068)">0</div><div class="b" style="left:268.51px;top:68.60px;transform:scaleX(0.978)">2</div><div class="b" style="left:278.00px;top:68.60px;transform:scaleX(1.068)">0</div><div class="b" style="left:287.66px;top:68.60px">.</div><div class="b" style="left:292.30px;top:68.60px;transform:scaleX(1.068)">0</div><div class="b" style="left:462.15px;top:68.60px;transform:scaleX(0.915)">5</div><div class="b" style="left:470.36px;top:68.60px">.</div><div class="b" style="left:474.80px;top:68.60px;transform:scaleX(0.968)">6</div><div class="b" style="left:484.21px;top:68.60px;transform:scaleX(0.854)">%</div><div class="b" style="left:17.75px;top:110.10px;transform:scaleX(0.923)">9</div><div class="b" style="left:26.61px;top:110.10px;transform:scaleX(0.978)">2</div><div class="b" style="left:273.19px;top:110.10px;transform:scaleX(1.035)">7</div><div class="b" style="left:279.86px;top:110.10px">.</div><div class="b" style="left:284.35px;top:110.10px;transform:scaleX(0.923)">9</div><div class="b" style="left:456.76px;top:110.10px;transform:scaleX(1.269)">-</div><div class="b" style="left:469.70px;top:110.10px;transform:scaleX(1.068)">0</div><div class="b" style="left:479.36px;top:110.10px">.</div><div class="b" style="left:483.85px;top:110.10px;transform:scaleX(0.923)">9</div><div class="b" style="left:492.81px;top:110.10px;transform:scaleX(0.854)">%</div><div class="b" style="left:17.75px;top:151.60px;transform:scaleX(0.923)">9</div><div class="b" style="left:26.61px;top:151.60px;transform:scaleX(0.978)">2</div><div class="b" style="left:35.91px;top:151.60px;transform:scaleX(0.978)">2</div><div class="b" style="left:273.80px;top:151.60px;transform:scaleX(0.968)">6</div><div class="b" style="left:282.46px;top:151.60px">.</div><div class="b" style="left:287.00px;top:151.60px;transform:scaleX(0.945)">8</div><div class="b" style="left:456.76px;top:151.60px;transform:scaleX(1.269)">-</div><div class="b" style="left:464.20px;top:151.60px;transform:scaleX(0.968)">6</div><div class="b" style="left:472.86px;top:151.60px">.</div><div class="b" style="left:477.31px;top:151.60px;transform:scaleX(0.978)">2</div><div class="b" style="left:486.71px;top:151.60px;transform:scaleX(0.854)">%</div><div class="b" style="left:17.75px;top:193.10px;transform:scaleX(0.923)">9</div><div class="b" style="left:26.61px;top:193.10px;transform:scaleX(0.978)">2</div><div class="b" style="left:36.08px;top:193.10px;transform:scaleX(0.926)">3</div><div class="b" style="left:273.19px;top:193.10px;transform:scaleX(1.035)">7</div><div class="b" style="left:279.86px;top:193.10px">.</div><div class="b" style="left:461.36px;top:193.10px">.</div><div class="b" style="left:465.90px;top:193.10px;transform:scaleX(0.945)">8</div><div class="b" style="left:475.11px;top:193.10px;transform:scaleX(0.854)">%</div><div class="b" style="left:17.75px;top:234.60px;transform:scaleX(0.923)">9</div><div class="b" style="left:26.61px;top:234.60px;transform:scaleX(0.978)">2</div><div class="b" style="left:36.29px;top:234.60px;transform:scaleX(0.923)">4</div><div class="b" style="left:273.19px;top:234.60px;transform:scaleX(1.035)">7</div><div class="b" style="left:279.86px;top:234.60px">.</div><div class="b" style="left:456.90px;top:234.60px;transform:scaleX(1.068)">0</div><div class="b" style="left:466.56px;top:234.60px">.</div><div class="b" style="left:471.39px;top:234.60px;transform:scaleX(0.923)">4</div><div class="b" style="left:480.61px;top:234.60px;transform:scaleX(0.854)">%</div><div class="b" style="left:17.75px;top:276.10px;transform:scaleX(0.923)">9</div><div class="b" style="left:26.61px;top:276.10px;transform:scaleX(0.978)">2</div><div class="b" style="left:36.05px;top:276.10px;transform:scaleX(0.915)">5</div><div class="b" style="left:273.19px;top:276.10px;transform:scaleX(1.035)">7</div><div class="b" style="left:279.86px;top:276.10px">.</div><div class="b" style="left:284.45px;top:276.10px;transform:scaleX(0.915)">5</div><div class="b" style="left:456.71px;top:276.10px;transform:scaleX(0.978)">2</div><div class="b" style="left:465.36px;top:276.10px">.</div><div class="b" style="left:470.19px;top:276.10px;transform:scaleX(0.923)">4</div><div class="b" style="left:479.41px;top:276.10px;transform:scaleX(0.854)">%</div><div class="b" style="left:17.75px;top:317.60px;transform:scaleX(0.923)">9</div><div class="b" style="left:26.61px;top:317.60px;transform:scaleX(0.978)">2</div><div class="b" style="left:35.90px;top:317.60px;transform:scaleX(0.968)">6</div><div class="b" style="left:273.19px;top:317.60px;transform:scaleX(1.035)">7</div><div class="b" style="left:279.86px;top:317.60px">.</div><div class="b" style="left:284.29px;top:317.60px;transform:scaleX(1.035)">7</div><div class="b" style="left:456.90px;top:317.60px;transform:scaleX(1.068)">0</div><div class="b" style="left:466.56px;top:317.60px">.</div><div class="b" style="left:471.05px;top:317.60px;transform:scaleX(0.923)">9</div><div class="b" style="left:480.01px;top:317.60px;transform:scaleX(0.854)">%</div><div class="b" style="left:17.75px;top:359.10px;transform:scaleX(0.923)">9</div><div class="b" style="left:26.61px;top:359.10px;transform:scaleX(0.978)">2</div><div class="b" style="left:35.89px;top:359.10px;transform:scaleX(1.035)">7</div><div class="b" style="left:273.19px;top:359.10px;transform:scaleX(1.035)">7</div><div class="b" style="left:279.86px;top:359.10px">.</div><div class="b" style="left:284.69px;top:359.10px;transform:scaleX(0.923)">4</div><div class="b" style="left:456.76px;top:359.10px;transform:scaleX(1.269)">-</div><div class="b" style="left:468.86px;top:359.10px">.</div><div class="b" style="left:473.35px;top:359.10px;transform:scaleX(0.923)">9</div><div class="b" style="left:482.31px;top:359.10px;transform:scaleX(0.854)">%</div><div class="b" style="left:17.75px;top:400.60px;transform:scaleX(0.923)">9</div><div class="b" style="left:26.61px;top:400.60px;transform:scaleX(0.978)">2</div><div class="b" style="left:36.00px;top:400.60px;transform:scaleX(0.945)">8</div><div class="b" style="left:273.19px;top:400.60px;transform:scaleX(1.035)">7</div><div class="b" style="left:279.86px;top:400.60px">.</div><div class="b" style="left:284.31px;top:400.60px;transform:scaleX(0.978)">2</div><div class="b" style="left:456.76px;top:400.60px;transform:scaleX(1.269)">-</div><div class="b" style="left:468.86px;top:400.60px">.</div><div class="b" style="left:473.31px;top:400.60px;transform:scaleX(0.978)">2</div><div class="b" style="left:482.71px;top:400.60px;transform:scaleX(0.854)">%</div><div class="b" style="left:17.75px;top:442.10px;transform:scaleX(0.923)">9</div><div class="b" style="left:26.61px;top:442.10px;transform:scaleX(0.978)">2</div><div class="b" style="left:35.95px;top:442.10px;transform:scaleX(0.923)">9</div><div class="b" style="left:273.19px;top:442.10px;transform:scaleX(1.035)">7</div><div class="b" style="left:279.86px;top:442.10px">.</div><div class="b" style="left:284.31px;top:442.10px;transform:scaleX(0.978)">2</div><div class="b" style="left:456.90px;top:442.10px;transform:scaleX(1.068)">0</div><div class="b" style="left:466.56px;top:442.10px">.</div><div class="b" style="left:471.20px;top:442.10px;transform:scaleX(1.068)">0</div><div class="b" style="left:481.61px;top:442.10px;transform:scaleX(0.854)">%</div>
</body></html>
